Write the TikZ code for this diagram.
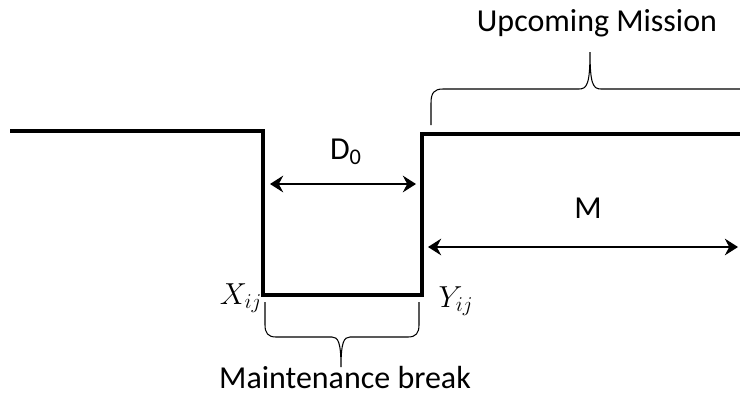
\documentclass[tikz,border=0pt]{standalone}
\usepackage{fontspec}
\setmainfont{Carlito}
\usetikzlibrary{arrows.meta}

\begin{document}
\begin{tikzpicture}[
  x=0.02cm,y=-0.02cm,>=Stealth,
  signal/.style={draw=black,line width=2.3pt,line join=miter},
  span/.style={<->,draw=black,line width=.8pt,>={Stealth[length=7.5pt,width=9.5pt,inset=2.5pt]}},
  brace/.style={draw=black,line width=.6pt},
  label/.style={font=\fontsize{18.2}{22}\selectfont,inner sep=0pt},
  mathlabel/.style={font=\fontsize{17.5}{21}\selectfont,inner sep=0pt}
]

% page frame; the mission brace runs off the right edge
\clip (0,0) rectangle (740,396);

% availability profile: up, maintenance break, up again
\coordinate (start) at (10,131);
\coordinate (xtop) at (263,131);
\coordinate (xbot) at (263,295);
\coordinate (ybot) at (422,295);
\coordinate (ytop) at (422,134);
\coordinate (finish) at (745,134);
\draw[signal] (start) -- (xtop) -- (xbot) -- (ybot) -- (ytop) -- (finish);

% durations
\coordinate (dleft) at (270,184);
\coordinate (dright) at (416,184);
\coordinate (mleft) at (428,247);
\coordinate (mright) at (738,247);
\draw[span] (dleft) -- (dright);
\draw[span] (mleft) -- (mright);
\node[label] (dlab) at (346,152) {D\textsubscript{0}};
\node[label] (mlab) at (588,208) {M};

% break end points
\node[mathlabel] (xlab) at (241,298) {$X_{ij}$};
\node[mathlabel] (ylab) at (456,301) {$Y_{ij}$};

% braces
\draw[brace] (431,125) -- (431,103) .. controls (431,93) and (434,89) .. (443,89)
  -- (579,89) .. controls (587,89) and (590,84) .. (590,52)
  .. controls (590,84) and (593,89) .. (601,89) -- (760,89);
\draw[brace] (265,302) -- (265,325) .. controls (265,333) and (268,337) .. (276,337)
  -- (332,337) .. controls (338,337) and (341,342) .. (341,367)
  .. controls (341,342) and (344,337) .. (350,337) -- (408,337)
  .. controls (416,337) and (419,333) .. (419,325) -- (419,302);
\node[label] (mission) at (597,23) {Upcoming Mission};
\node[label] (maint) at (345,378) {Maintenance break};
\end{tikzpicture}
\end{document}
